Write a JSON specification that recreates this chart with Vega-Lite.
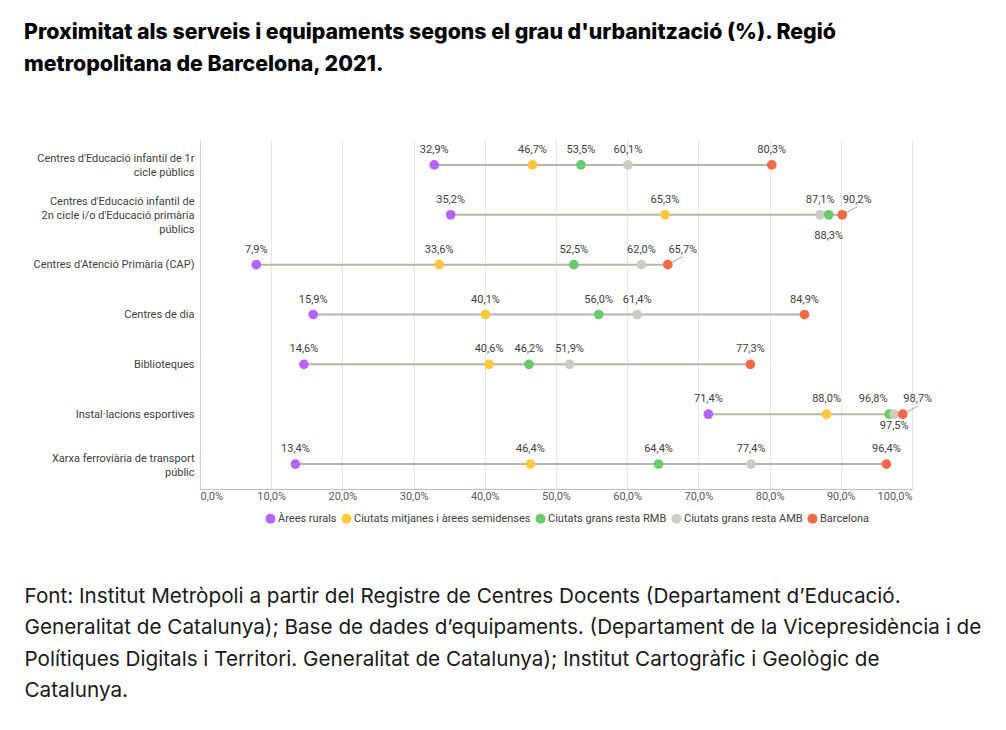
{
  "$schema": "https://vega.github.io/schema/vega-lite/v6.json",
  "width": 712,
  "height": 349,
  "autosize": "none",
  "padding": {"left": 200, "top": 140, "right": 94, "bottom": 241},
  "background": "white",
  "title": {
    "text": ["Proximitat als serveis i equipaments segons el grau d'urbanització (%). Regió", "metropolitana de Barcelona, 2021."],
    "anchor": "start",
    "frame": "group",
    "dx": -176,
    "font": "Inter",
    "fontSize": 21.3,
    "fontWeight": 800,
    "color": "#000000",
    "lineHeight": 32,
    "offset": 65
  },
  "data": {
    "values": [
      {"item": "Centres d'Educació infantil de 1r cicle públics", "group": "Àrees rurals", "value": 32.9},
      {"item": "Centres d'Educació infantil de 1r cicle públics", "group": "Ciutats mitjanes i àrees semidenses", "value": 46.7},
      {"item": "Centres d'Educació infantil de 1r cicle públics", "group": "Ciutats grans resta RMB", "value": 53.5},
      {"item": "Centres d'Educació infantil de 1r cicle públics", "group": "Ciutats grans resta AMB", "value": 60.1},
      {"item": "Centres d'Educació infantil de 1r cicle públics", "group": "Barcelona", "value": 80.3},
      {"item": "Centres d'Educació infantil de 2n cicle i/o d'Educació primària públics", "group": "Àrees rurals", "value": 35.2},
      {"item": "Centres d'Educació infantil de 2n cicle i/o d'Educació primària públics", "group": "Ciutats mitjanes i àrees semidenses", "value": 65.3},
      {"item": "Centres d'Educació infantil de 2n cicle i/o d'Educació primària públics", "group": "Ciutats grans resta AMB", "value": 87.1},
      {"item": "Centres d'Educació infantil de 2n cicle i/o d'Educació primària públics", "group": "Ciutats grans resta RMB", "value": 88.3},
      {"item": "Centres d'Educació infantil de 2n cicle i/o d'Educació primària públics", "group": "Barcelona", "value": 90.2},
      {"item": "Centres d'Atenció Primària (CAP)", "group": "Àrees rurals", "value": 7.9},
      {"item": "Centres d'Atenció Primària (CAP)", "group": "Ciutats mitjanes i àrees semidenses", "value": 33.6},
      {"item": "Centres d'Atenció Primària (CAP)", "group": "Ciutats grans resta RMB", "value": 52.5},
      {"item": "Centres d'Atenció Primària (CAP)", "group": "Ciutats grans resta AMB", "value": 62.0},
      {"item": "Centres d'Atenció Primària (CAP)", "group": "Barcelona", "value": 65.7},
      {"item": "Centres de dia", "group": "Àrees rurals", "value": 15.9},
      {"item": "Centres de dia", "group": "Ciutats mitjanes i àrees semidenses", "value": 40.1},
      {"item": "Centres de dia", "group": "Ciutats grans resta RMB", "value": 56.0},
      {"item": "Centres de dia", "group": "Ciutats grans resta AMB", "value": 61.4},
      {"item": "Centres de dia", "group": "Barcelona", "value": 84.9},
      {"item": "Biblioteques", "group": "Àrees rurals", "value": 14.6},
      {"item": "Biblioteques", "group": "Ciutats mitjanes i àrees semidenses", "value": 40.6},
      {"item": "Biblioteques", "group": "Ciutats grans resta RMB", "value": 46.2},
      {"item": "Biblioteques", "group": "Ciutats grans resta AMB", "value": 51.9},
      {"item": "Biblioteques", "group": "Barcelona", "value": 77.3},
      {"item": "Instal·lacions esportives", "group": "Àrees rurals", "value": 71.4},
      {"item": "Instal·lacions esportives", "group": "Ciutats mitjanes i àrees semidenses", "value": 88.0},
      {"item": "Instal·lacions esportives", "group": "Ciutats grans resta RMB", "value": 96.8},
      {"item": "Instal·lacions esportives", "group": "Ciutats grans resta AMB", "value": 97.5},
      {"item": "Instal·lacions esportives", "group": "Barcelona", "value": 98.7},
      {"item": "Xarxa ferroviària de transport públic", "group": "Àrees rurals", "value": 13.4},
      {"item": "Xarxa ferroviària de transport públic", "group": "Ciutats mitjanes i àrees semidenses", "value": 46.4},
      {"item": "Xarxa ferroviària de transport públic", "group": "Ciutats grans resta RMB", "value": 64.4},
      {"item": "Xarxa ferroviària de transport públic", "group": "Ciutats grans resta AMB", "value": 77.4},
      {"item": "Xarxa ferroviària de transport públic", "group": "Barcelona", "value": 96.4}
    ]
  },
  "transform": [
    {"calculate": "replace(format(datum.value, '.1f'), '.', ',') + '%'", "as": "label"}
  ],
  "encoding": {
    "y": {
      "field": "item",
      "type": "nominal",
      "sort": null,
      "scale": {
        "type": "point",
        "domain": [
          "Centres d'Educació infantil de 1r cicle públics",
          "Centres d'Educació infantil de 2n cicle i/o d'Educació primària públics",
          "Centres d'Atenció Primària (CAP)",
          "Centres de dia",
          "Biblioteques",
          "Instal·lacions esportives",
          "Xarxa ferroviària de transport públic"
        ],
        "padding": 0.5
      },
      "axis": {
        "title": null,
        "ticks": false,
        "grid": false,
        "domainColor": "#d0d0d0",
        "domainWidth": 1,
        "labelFont": "Roboto",
        "labelFontSize": 11,
        "labelColor": "#404040",
        "labelPadding": 6,
        "labelLineHeight": 14,
        "labelLimit": 200,
        "labelOffset": {
          "condition": [
            {"test": "indexof(datum.value, '2n cicle') >= 0", "value": -13},
            {"test": "indexof(datum.value, '1r cicle') >= 0 || indexof(datum.value, 'Xarxa') >= 0", "value": -6}
          ],
          "value": 0
        },
        "labelExpr": "datum.label == \"Centres d'Educació infantil de 1r cicle públics\" ? [\"Centres d'Educació infantil de 1r\", \"cicle públics\"] : datum.label == \"Centres d'Educació infantil de 2n cicle i/o d'Educació primària públics\" ? [\"Centres d'Educació infantil de\", \"2n cicle i/o d'Educació primària\", \"públics\"] : datum.label == \"Xarxa ferroviària de transport públic\" ? [\"Xarxa ferroviària de transport\", \"públic\"] : datum.label"
      }
    }
  },
  "layer": [
    {
      "mark": {"type": "rule", "color": "#bab3a9", "strokeWidth": 2},
      "encoding": {
        "x": {"aggregate": "min", "field": "value", "type": "quantitative", "scale": {"domain": [0, 100], "nice": false}},
        "x2": {"aggregate": "max", "field": "value"}
      }
    },
    {
      "transform": [
        {"filter": "datum.group=='Barcelona' && (indexof(datum.item,'2n cicle')>=0 || indexof(datum.item,'CAP')>=0 || indexof(datum.item,'Instal')>=0)"}
      ],
      "mark": {"type": "rule", "color": "#a6a6a6", "strokeWidth": 1, "xOffset": 2, "x2Offset": 15, "yOffset": -1, "y2Offset": -8},
      "encoding": {
        "x": {"field": "value", "type": "quantitative"},
        "x2": {"field": "value"},
        "y2": {"field": "item"}
      }
    },
    {
      "mark": {"type": "point", "filled": true, "opacity": 1, "size": 95, "shape": "circle"},
      "encoding": {
        "x": {
          "field": "value",
          "type": "quantitative",
          "scale": {"domain": [0, 100], "nice": false},
          "axis": {
            "values": [0, 10, 20, 30, 40, 50, 60, 70, 80, 90, 100],
            "labelExpr": "replace(format(datum.value, '.1f'), '.', ',') + '%'",
            "labelFont": "Roboto",
            "labelFontSize": 11,
            "labelColor": "#595959",
            "labelPadding": 1,
            "ticks": false,
            "domainColor": "#c0c0c0",
            "domainWidth": 1,
            "grid": true,
            "gridColor": "#e6e6e6",
            "gridWidth": 1,
            "title": [
              "Font: Institut Metròpoli a partir del Registre de Centres Docents (Departament d’Educació.",
              "Generalitat de Catalunya); Base de dades d’equipaments. (Departament de la Vicepresidència i de",
              "Polítiques Digitals i Territori. Generalitat de Catalunya); Institut Cartogràfic i Geològic de",
              "Catalunya."
            ],
            "titleFont": "Inter",
            "titleFontSize": 20.7,
            "titleFontWeight": "normal",
            "titleColor": "#1a1a1a",
            "titleAnchor": "start",
            "titleAlign": "left",
            "titleBaseline": "top",
            "titleLineHeight": 31.6,
            "titleX": -176,
            "titleY": 97
          }
        },
        "color": {
          "field": "group",
          "type": "nominal",
          "scale": {
            "domain": ["Àrees rurals", "Ciutats mitjanes i àrees semidenses", "Ciutats grans resta RMB", "Ciutats grans resta AMB", "Barcelona"],
            "range": ["#b266ff", "#ffc83d", "#68cb6c", "#cfcbc0", "#f26a45"]
          },
          "legend": {
            "title": null,
            "orient": "none",
            "direction": "horizontal",
            "legendX": 65,
            "legendY": 373,
            "symbolType": "circle",
            "symbolSize": 100,
            "symbolStrokeWidth": 0,
            "labelFont": "Roboto",
            "labelFontSize": 11,
            "labelColor": "#404040",
            "labelOffset": 2,
            "labelLimit": 300,
            "columnPadding": 4
          }
        }
      }
    },
    {
      "transform": [
        {"filter": "!((indexof(datum.item,'2n cicle')>=0 && (datum.group=='Ciutats grans resta RMB' || datum.group=='Barcelona')) || (indexof(datum.item,'CAP')>=0 && datum.group=='Barcelona') || (indexof(datum.item,'Instal')>=0 && datum.group!='Àrees rurals' && datum.group!='Ciutats mitjanes i àrees semidenses'))"}
      ],
      "mark": {"type": "text", "font": "Roboto", "fontSize": 11, "color": "#404040", "dy": -15, "baseline": "middle"},
      "encoding": {"x": {"field": "value", "type": "quantitative"}, "text": {"field": "label"}}
    },
    {
      "transform": [
        {"filter": "datum.group=='Barcelona' && (indexof(datum.item,'2n cicle')>=0 || indexof(datum.item,'CAP')>=0 || indexof(datum.item,'Instal')>=0)"}
      ],
      "mark": {"type": "text", "font": "Roboto", "fontSize": 11, "color": "#404040", "dy": -15, "dx": 15, "baseline": "middle"},
      "encoding": {"x": {"field": "value", "type": "quantitative"}, "text": {"field": "label"}}
    },
    {
      "transform": [
        {"filter": "indexof(datum.item,'2n cicle')>=0 && datum.group=='Ciutats grans resta RMB'"}
      ],
      "mark": {"type": "text", "font": "Roboto", "fontSize": 11, "color": "#404040", "dy": 21, "baseline": "middle"},
      "encoding": {"x": {"field": "value", "type": "quantitative"}, "text": {"field": "label"}}
    },
    {
      "transform": [
        {"filter": "indexof(datum.item,'Instal')>=0 && datum.group=='Ciutats grans resta AMB'"}
      ],
      "mark": {"type": "text", "font": "Roboto", "fontSize": 11, "color": "#404040", "dy": 12, "baseline": "middle"},
      "encoding": {"x": {"field": "value", "type": "quantitative"}, "text": {"field": "label"}}
    },
    {
      "transform": [
        {"filter": "indexof(datum.item,'Instal')>=0 && datum.group=='Ciutats grans resta RMB'"}
      ],
      "mark": {"type": "text", "font": "Roboto", "fontSize": 11, "color": "#404040", "dy": -15, "dx": -16, "baseline": "middle"},
      "encoding": {"x": {"field": "value", "type": "quantitative"}, "text": {"field": "label"}}
    }
  ],
  "config": {
    "view": {"stroke": null}
  }
}
